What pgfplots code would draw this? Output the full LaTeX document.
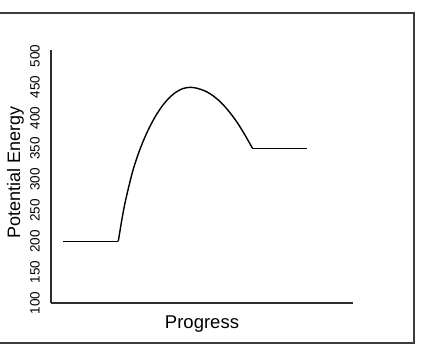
\documentclass[border=0pt]{standalone}
\usepackage{fontspec}
\setmainfont{Liberation Sans}
\usepackage{pgfplots}
\pgfplotsset{compat=1.18}
\definecolor{framegray}{RGB}{60,60,60}
\definecolor{axisgray}{RGB}{45,45,45}
\begin{document}
\begin{tikzpicture}[x=1pt,y=1pt]
\useasboundingbox (0,0) rectangle (429,363);
\draw[line width=1.8pt, color=framegray] (-5,20) rectangle (414,350);
\begin{axis}[
  at={(51pt,60pt)}, anchor=south west,
  scale only axis, width=302pt, height=253pt,
  axis x line=bottom, axis y line=left,
  axis line style={-, line width=1.6pt, color=axisgray},
  xmin=0, xmax=100, ymin=100, ymax=510,
  xtick=\empty,
  ytick={100,150,...,500},
  major tick length=0pt,
  /pgf/number format/assume math mode=true,
  yticklabel style={rotate=90, anchor=south, inner sep=11pt, font=\fontsize{13.5}{13.5}\selectfont, text=black},
  every axis y label/.style={at={(axis description cs:0,0.5)}, xshift=-31pt, yshift=4pt, rotate=90, anchor=base, font=\fontsize{18}{18}\selectfont},
  every axis x label/.style={at={(axis description cs:0.5,0)}, yshift=-26pt, anchor=base, font=\fontsize{18.5}{18.5}\selectfont},
  ylabel={Potential Energy},
  xlabel={Progress},
  clip=false,
]
\addplot[black, line width=1.4pt, sharp plot] coordinates {(4.1,200) (22.28,200)};
\addplot[black, line width=1.4pt, smooth] coordinates {
 (22.28,200) (23.48,235.5) (24.67,265.8) (27.02,313.0) (29.40,348.4) (31.79,376.4)
 (34.17,399.1) (36.52,417.2) (38.91,431.3) (41.29,441.4) (43.64,447.4) (46.03,449.5)
 (48.34,448.0) (50.99,443.6) (53.64,435.9) (56.29,424.9) (58.94,410.4) (61.59,393.0)
 (64.24,372.1) (66.79,350)
};
\addplot[black, line width=1.4pt, sharp plot] coordinates {(66.79,350) (84.7,350)};
\end{axis}
\end{tikzpicture}
\end{document}
